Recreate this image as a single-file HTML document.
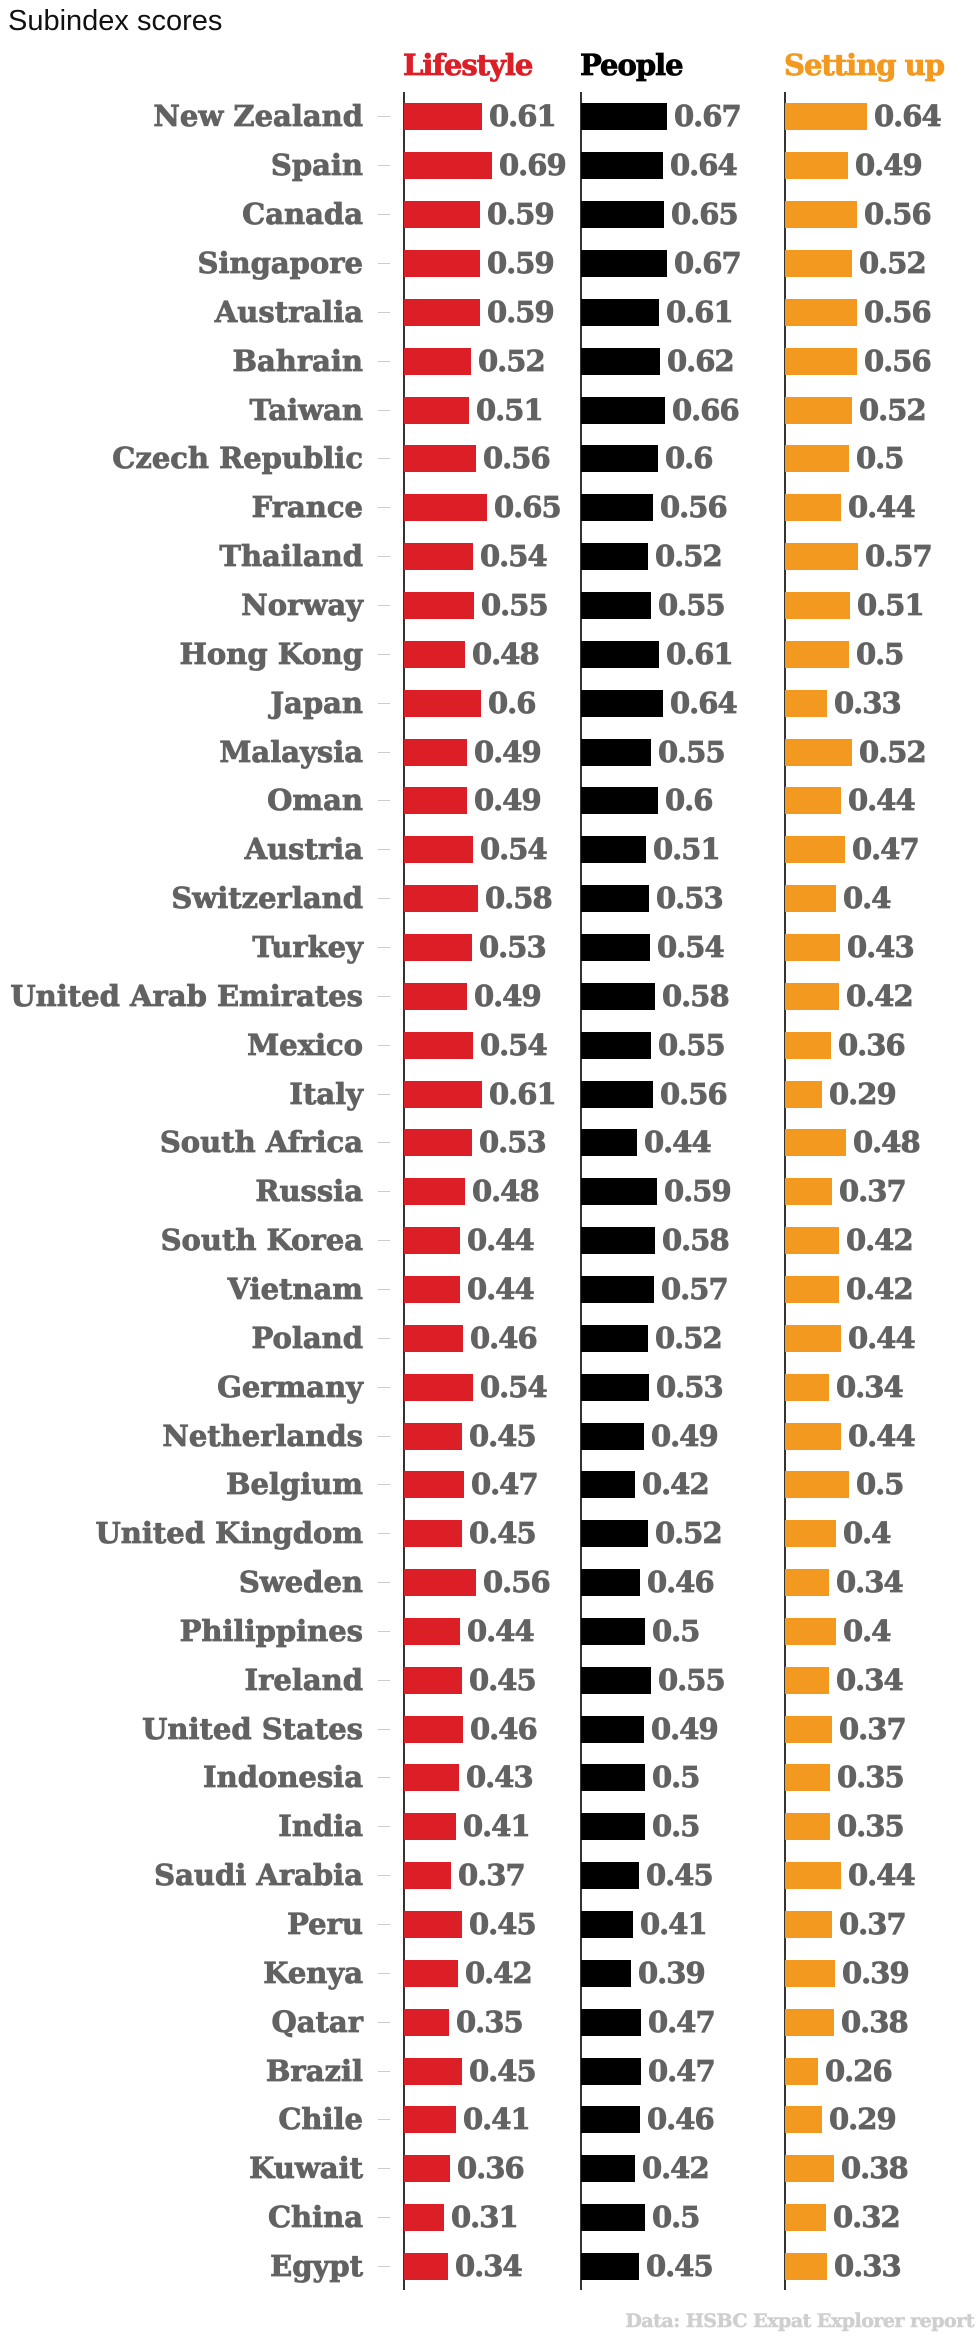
<!DOCTYPE html>
<html><head><meta charset="utf-8"><style>
body{margin:0;width:980px;height:2336px;background:#fff;position:relative;overflow:hidden;font-family:"DejaVu Serif","Liberation Serif",serif;}
.t{position:absolute;left:8px;top:5px;font:29px "Liberation Sans",sans-serif;color:#111}
.h{position:absolute;top:48px;font-weight:bold;font-size:29px;letter-spacing:-1px;-webkit-text-stroke:0.8px currentColor}
.ax{position:absolute;top:92px;height:2198px;width:1.5px;background:#333}
.r{position:absolute;left:0;width:980px;height:48px}
.n{position:absolute;right:617px;top:0;line-height:48px;font-weight:bold;font-size:29px;color:#626262;letter-spacing:0;white-space:nowrap;-webkit-text-stroke:0.8px #626262}
.k{position:absolute;left:378px;top:24px;width:12px;height:1px;background:#ccc}
.c{position:absolute;top:0;height:48px;display:flex;align-items:center;font-weight:bold;font-size:29px;color:#626262;letter-spacing:-1px;-webkit-text-stroke:0.8px #626262}
.c i{display:inline-block;height:27px;margin-right:7px}
.a{left:404px}.a i{background:#dc1e27}
.b{left:581px}.b i{background:#000}
.d{left:785px}.d i{background:#f4991f}
.f{position:absolute;right:6px;top:2310px;font-weight:bold;font-size:19px;color:#cfcfcf;letter-spacing:-0.5px;-webkit-text-stroke:0.5px #cfcfcf}
</style></head><body>
<div class="t">Subindex scores</div>
<div class="h" style="left:403px;color:#dc1e27">Lifestyle</div>
<div class="h" style="left:580px;color:#000">People</div>
<div class="h" style="left:784px;color:#f4991f">Setting up</div>
<div class="ax" style="left:403px"></div>
<div class="ax" style="left:580px"></div>
<div class="ax" style="left:784px"></div>

<div class="r" style="top:92px"><span class="n">New Zealand</span><i class="k"></i><span class="c a"><i style="width:78px"></i>0.61</span><span class="c b"><i style="width:86px"></i>0.67</span><span class="c d"><i style="width:82px"></i>0.64</span></div>
<div class="r" style="top:141px"><span class="n">Spain</span><i class="k"></i><span class="c a"><i style="width:88px"></i>0.69</span><span class="c b"><i style="width:82px"></i>0.64</span><span class="c d"><i style="width:63px"></i>0.49</span></div>
<div class="r" style="top:190px"><span class="n">Canada</span><i class="k"></i><span class="c a"><i style="width:76px"></i>0.59</span><span class="c b"><i style="width:83px"></i>0.65</span><span class="c d"><i style="width:72px"></i>0.56</span></div>
<div class="r" style="top:239px"><span class="n">Singapore</span><i class="k"></i><span class="c a"><i style="width:76px"></i>0.59</span><span class="c b"><i style="width:86px"></i>0.67</span><span class="c d"><i style="width:67px"></i>0.52</span></div>
<div class="r" style="top:288px"><span class="n">Australia</span><i class="k"></i><span class="c a"><i style="width:76px"></i>0.59</span><span class="c b"><i style="width:78px"></i>0.61</span><span class="c d"><i style="width:72px"></i>0.56</span></div>
<div class="r" style="top:337px"><span class="n">Bahrain</span><i class="k"></i><span class="c a"><i style="width:67px"></i>0.52</span><span class="c b"><i style="width:79px"></i>0.62</span><span class="c d"><i style="width:72px"></i>0.56</span></div>
<div class="r" style="top:386px"><span class="n">Taiwan</span><i class="k"></i><span class="c a"><i style="width:65px"></i>0.51</span><span class="c b"><i style="width:84px"></i>0.66</span><span class="c d"><i style="width:67px"></i>0.52</span></div>
<div class="r" style="top:434px"><span class="n">Czech Republic</span><i class="k"></i><span class="c a"><i style="width:72px"></i>0.56</span><span class="c b"><i style="width:77px"></i>0.6</span><span class="c d"><i style="width:64px"></i>0.5</span></div>
<div class="r" style="top:483px"><span class="n">France</span><i class="k"></i><span class="c a"><i style="width:83px"></i>0.65</span><span class="c b"><i style="width:72px"></i>0.56</span><span class="c d"><i style="width:56px"></i>0.44</span></div>
<div class="r" style="top:532px"><span class="n">Thailand</span><i class="k"></i><span class="c a"><i style="width:69px"></i>0.54</span><span class="c b"><i style="width:67px"></i>0.52</span><span class="c d"><i style="width:73px"></i>0.57</span></div>
<div class="r" style="top:581px"><span class="n">Norway</span><i class="k"></i><span class="c a"><i style="width:70px"></i>0.55</span><span class="c b"><i style="width:70px"></i>0.55</span><span class="c d"><i style="width:65px"></i>0.51</span></div>
<div class="r" style="top:630px"><span class="n">Hong Kong</span><i class="k"></i><span class="c a"><i style="width:61px"></i>0.48</span><span class="c b"><i style="width:78px"></i>0.61</span><span class="c d"><i style="width:64px"></i>0.5</span></div>
<div class="r" style="top:679px"><span class="n">Japan</span><i class="k"></i><span class="c a"><i style="width:77px"></i>0.6</span><span class="c b"><i style="width:82px"></i>0.64</span><span class="c d"><i style="width:42px"></i>0.33</span></div>
<div class="r" style="top:728px"><span class="n">Malaysia</span><i class="k"></i><span class="c a"><i style="width:63px"></i>0.49</span><span class="c b"><i style="width:70px"></i>0.55</span><span class="c d"><i style="width:67px"></i>0.52</span></div>
<div class="r" style="top:776px"><span class="n">Oman</span><i class="k"></i><span class="c a"><i style="width:63px"></i>0.49</span><span class="c b"><i style="width:77px"></i>0.6</span><span class="c d"><i style="width:56px"></i>0.44</span></div>
<div class="r" style="top:825px"><span class="n">Austria</span><i class="k"></i><span class="c a"><i style="width:69px"></i>0.54</span><span class="c b"><i style="width:65px"></i>0.51</span><span class="c d"><i style="width:60px"></i>0.47</span></div>
<div class="r" style="top:874px"><span class="n">Switzerland</span><i class="k"></i><span class="c a"><i style="width:74px"></i>0.58</span><span class="c b"><i style="width:68px"></i>0.53</span><span class="c d"><i style="width:51px"></i>0.4</span></div>
<div class="r" style="top:923px"><span class="n">Turkey</span><i class="k"></i><span class="c a"><i style="width:68px"></i>0.53</span><span class="c b"><i style="width:69px"></i>0.54</span><span class="c d"><i style="width:55px"></i>0.43</span></div>
<div class="r" style="top:972px"><span class="n">United Arab Emirates</span><i class="k"></i><span class="c a"><i style="width:63px"></i>0.49</span><span class="c b"><i style="width:74px"></i>0.58</span><span class="c d"><i style="width:54px"></i>0.42</span></div>
<div class="r" style="top:1021px"><span class="n">Mexico</span><i class="k"></i><span class="c a"><i style="width:69px"></i>0.54</span><span class="c b"><i style="width:70px"></i>0.55</span><span class="c d"><i style="width:46px"></i>0.36</span></div>
<div class="r" style="top:1070px"><span class="n">Italy</span><i class="k"></i><span class="c a"><i style="width:78px"></i>0.61</span><span class="c b"><i style="width:72px"></i>0.56</span><span class="c d"><i style="width:37px"></i>0.29</span></div>
<div class="r" style="top:1118px"><span class="n">South Africa</span><i class="k"></i><span class="c a"><i style="width:68px"></i>0.53</span><span class="c b"><i style="width:56px"></i>0.44</span><span class="c d"><i style="width:61px"></i>0.48</span></div>
<div class="r" style="top:1167px"><span class="n">Russia</span><i class="k"></i><span class="c a"><i style="width:61px"></i>0.48</span><span class="c b"><i style="width:76px"></i>0.59</span><span class="c d"><i style="width:47px"></i>0.37</span></div>
<div class="r" style="top:1216px"><span class="n">South Korea</span><i class="k"></i><span class="c a"><i style="width:56px"></i>0.44</span><span class="c b"><i style="width:74px"></i>0.58</span><span class="c d"><i style="width:54px"></i>0.42</span></div>
<div class="r" style="top:1265px"><span class="n">Vietnam</span><i class="k"></i><span class="c a"><i style="width:56px"></i>0.44</span><span class="c b"><i style="width:73px"></i>0.57</span><span class="c d"><i style="width:54px"></i>0.42</span></div>
<div class="r" style="top:1314px"><span class="n">Poland</span><i class="k"></i><span class="c a"><i style="width:59px"></i>0.46</span><span class="c b"><i style="width:67px"></i>0.52</span><span class="c d"><i style="width:56px"></i>0.44</span></div>
<div class="r" style="top:1363px"><span class="n">Germany</span><i class="k"></i><span class="c a"><i style="width:69px"></i>0.54</span><span class="c b"><i style="width:68px"></i>0.53</span><span class="c d"><i style="width:44px"></i>0.34</span></div>
<div class="r" style="top:1412px"><span class="n">Netherlands</span><i class="k"></i><span class="c a"><i style="width:58px"></i>0.45</span><span class="c b"><i style="width:63px"></i>0.49</span><span class="c d"><i style="width:56px"></i>0.44</span></div>
<div class="r" style="top:1460px"><span class="n">Belgium</span><i class="k"></i><span class="c a"><i style="width:60px"></i>0.47</span><span class="c b"><i style="width:54px"></i>0.42</span><span class="c d"><i style="width:64px"></i>0.5</span></div>
<div class="r" style="top:1509px"><span class="n">United Kingdom</span><i class="k"></i><span class="c a"><i style="width:58px"></i>0.45</span><span class="c b"><i style="width:67px"></i>0.52</span><span class="c d"><i style="width:51px"></i>0.4</span></div>
<div class="r" style="top:1558px"><span class="n">Sweden</span><i class="k"></i><span class="c a"><i style="width:72px"></i>0.56</span><span class="c b"><i style="width:59px"></i>0.46</span><span class="c d"><i style="width:44px"></i>0.34</span></div>
<div class="r" style="top:1607px"><span class="n">Philippines</span><i class="k"></i><span class="c a"><i style="width:56px"></i>0.44</span><span class="c b"><i style="width:64px"></i>0.5</span><span class="c d"><i style="width:51px"></i>0.4</span></div>
<div class="r" style="top:1656px"><span class="n">Ireland</span><i class="k"></i><span class="c a"><i style="width:58px"></i>0.45</span><span class="c b"><i style="width:70px"></i>0.55</span><span class="c d"><i style="width:44px"></i>0.34</span></div>
<div class="r" style="top:1705px"><span class="n">United States</span><i class="k"></i><span class="c a"><i style="width:59px"></i>0.46</span><span class="c b"><i style="width:63px"></i>0.49</span><span class="c d"><i style="width:47px"></i>0.37</span></div>
<div class="r" style="top:1753px"><span class="n">Indonesia</span><i class="k"></i><span class="c a"><i style="width:55px"></i>0.43</span><span class="c b"><i style="width:64px"></i>0.5</span><span class="c d"><i style="width:45px"></i>0.35</span></div>
<div class="r" style="top:1802px"><span class="n">India</span><i class="k"></i><span class="c a"><i style="width:52px"></i>0.41</span><span class="c b"><i style="width:64px"></i>0.5</span><span class="c d"><i style="width:45px"></i>0.35</span></div>
<div class="r" style="top:1851px"><span class="n">Saudi Arabia</span><i class="k"></i><span class="c a"><i style="width:47px"></i>0.37</span><span class="c b"><i style="width:58px"></i>0.45</span><span class="c d"><i style="width:56px"></i>0.44</span></div>
<div class="r" style="top:1900px"><span class="n">Peru</span><i class="k"></i><span class="c a"><i style="width:58px"></i>0.45</span><span class="c b"><i style="width:52px"></i>0.41</span><span class="c d"><i style="width:47px"></i>0.37</span></div>
<div class="r" style="top:1949px"><span class="n">Kenya</span><i class="k"></i><span class="c a"><i style="width:54px"></i>0.42</span><span class="c b"><i style="width:50px"></i>0.39</span><span class="c d"><i style="width:50px"></i>0.39</span></div>
<div class="r" style="top:1998px"><span class="n">Qatar</span><i class="k"></i><span class="c a"><i style="width:45px"></i>0.35</span><span class="c b"><i style="width:60px"></i>0.47</span><span class="c d"><i style="width:49px"></i>0.38</span></div>
<div class="r" style="top:2047px"><span class="n">Brazil</span><i class="k"></i><span class="c a"><i style="width:58px"></i>0.45</span><span class="c b"><i style="width:60px"></i>0.47</span><span class="c d"><i style="width:33px"></i>0.26</span></div>
<div class="r" style="top:2095px"><span class="n">Chile</span><i class="k"></i><span class="c a"><i style="width:52px"></i>0.41</span><span class="c b"><i style="width:59px"></i>0.46</span><span class="c d"><i style="width:37px"></i>0.29</span></div>
<div class="r" style="top:2144px"><span class="n">Kuwait</span><i class="k"></i><span class="c a"><i style="width:46px"></i>0.36</span><span class="c b"><i style="width:54px"></i>0.42</span><span class="c d"><i style="width:49px"></i>0.38</span></div>
<div class="r" style="top:2193px"><span class="n">China</span><i class="k"></i><span class="c a"><i style="width:40px"></i>0.31</span><span class="c b"><i style="width:64px"></i>0.5</span><span class="c d"><i style="width:41px"></i>0.32</span></div>
<div class="r" style="top:2242px"><span class="n">Egypt</span><i class="k"></i><span class="c a"><i style="width:44px"></i>0.34</span><span class="c b"><i style="width:58px"></i>0.45</span><span class="c d"><i style="width:42px"></i>0.33</span></div>

<div class="f">Data: HSBC Expat Explorer report</div>
</body></html>
